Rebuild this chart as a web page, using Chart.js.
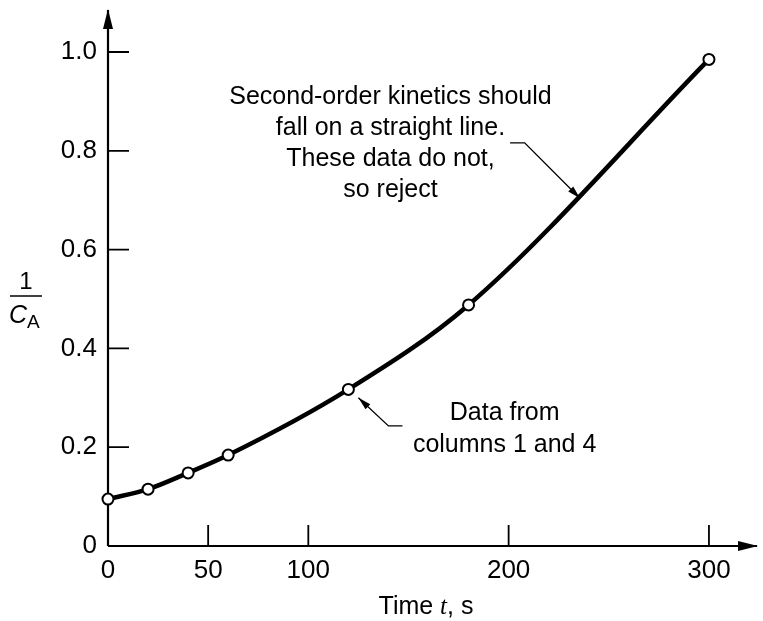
<!DOCTYPE html>
<html>
<head>
<meta charset="utf-8">
<script src="https://cdn.jsdelivr.net/npm/chart.js@4/dist/chart.umd.min.js"></script>
<style>
  html, body { margin: 0; padding: 0; background: #fff; }
  #wrap { width: 763px; height: 621px; }
</style>
</head>
<body>
<div id="wrap"><canvas id="chart"></canvas></div>
<script>
// Data: 1/CA against time
const times = [0, 20, 40, 60, 120, 180, 300];
const invCA = [0.095, 0.115, 0.148, 0.184, 0.317, 0.488, 0.985];

const xTicks = [0, 50, 100, 200, 300];
const yTicks = [0, 0.2, 0.4, 0.6, 0.8, 1.0];

const noteTop = ['Second-order kinetics should', 'fall on a straight line.', 'These data do not,', 'so reject'];
const noteBottom = ['Data from', 'columns 1 and 4'];

const FONT = "'Liberation Sans', Arial, sans-serif";

function arrowHead(ctx, x0, y0, x1, y1, len, half) {
    const a = Math.atan2(y1 - y0, x1 - x0);
    ctx.beginPath();
    ctx.moveTo(x1, y1);
    ctx.lineTo(x1 - len * Math.cos(a) + half * Math.sin(a), y1 - len * Math.sin(a) - half * Math.cos(a));
    ctx.lineTo(x1 - len * Math.cos(a) - half * Math.sin(a), y1 - len * Math.sin(a) + half * Math.cos(a));
    ctx.closePath();
    ctx.fill();
}

// axes with arrows and inward tick marks, drawn under the curve
const axesPlugin = {
    id: 'axes',
    beforeDatasetsDraw(chart) {
        const { ctx, chartArea, scales } = chart;
        const x0 = scales.x.getPixelForValue(0);
        const y0 = scales.y.getPixelForValue(0);
        ctx.save();
        ctx.strokeStyle = '#000';
        ctx.fillStyle = '#000';
        ctx.lineWidth = 2.2;
        ctx.beginPath();
        ctx.moveTo(x0, y0);
        ctx.lineTo(x0, chartArea.top - 2);
        ctx.moveTo(x0, y0);
        ctx.lineTo(chartArea.right + 12, y0);
        ctx.stroke();
        arrowHead(ctx, x0, y0, x0, chartArea.top - 3, 20, 5);
        arrowHead(ctx, x0, y0, chartArea.right + 13, y0, 20, 5);

        ctx.lineWidth = 1.8;
        ctx.beginPath();
        yTicks.slice(1).forEach(v => {
            const p = scales.y.getPixelForValue(v);
            ctx.moveTo(x0, p);
            ctx.lineTo(x0 + 21, p);
        });
        xTicks.slice(1).forEach(v => {
            const p = scales.x.getPixelForValue(v);
            ctx.moveTo(p, y0);
            ctx.lineTo(p, y0 - 21);
        });
        ctx.stroke();
        ctx.restore();
    },
    afterDraw(chart) {
        const { ctx, scales } = chart;
        const px = v => scales.x.getPixelForValue(v);
        const py = v => scales.y.getPixelForValue(v);
        ctx.save();
        ctx.fillStyle = '#000';
        ctx.strokeStyle = '#000';
        ctx.textAlign = 'center';
        ctx.textBaseline = 'middle';

        // upper note
        ctx.font = '25px ' + FONT;
        noteTop.forEach((t, i) => ctx.fillText(t, px(141), 97 + i * 31));
        ctx.lineWidth = 1.3;
        ctx.beginPath();
        ctx.moveTo(px(200.7), py(0.816));
        ctx.lineTo(px(208), py(0.816));
        ctx.lineTo(px(235.6), py(0.704));
        ctx.stroke();
        arrowHead(ctx, px(208), py(0.816), px(235.6), py(0.704), 13, 3.5);

        // lower note
        noteBottom.forEach((t, i) => ctx.fillText(t, px(198), 413 + i * 32));
        ctx.beginPath();
        ctx.moveTo(px(147), py(0.243));
        ctx.lineTo(px(140), py(0.243));
        ctx.lineTo(px(125), py(0.300));
        ctx.stroke();
        arrowHead(ctx, px(140), py(0.243), px(125), py(0.300), 13, 3.5);

        // x axis title, with italic t
        ctx.textAlign = 'left';
        ctx.textBaseline = 'alphabetic';
        const serifIt = "italic 25px 'Liberation Serif', serif";
        const parts = [['Time ', '25px ' + FONT], ['t', serifIt], [', s', '25px ' + FONT]];
        let w = 0;
        parts.forEach(p => { ctx.font = p[1]; w += ctx.measureText(p[0]).width; });
        let cx = 426 - w / 2;
        parts.forEach(p => {
            ctx.font = p[1];
            ctx.fillText(p[0], cx, 614);
            cx += ctx.measureText(p[0]).width;
        });

        // y axis title: 1 over C_A
        ctx.textAlign = 'center';
        ctx.font = '24px ' + FONT;
        ctx.fillText('1', 26, 289);
        ctx.lineWidth = 1.5;
        ctx.beginPath();
        ctx.moveTo(10, 296);
        ctx.lineTo(42, 296);
        ctx.stroke();
        ctx.textAlign = 'left';
        ctx.font = 'italic 25px ' + FONT;
        ctx.fillText('C', 9, 323);
        ctx.font = '19px ' + FONT;
        ctx.fillText('A', 27, 328);
        ctx.restore();
    }
};

new Chart(document.getElementById('chart'), {
    type: 'line',
    data: {
        datasets: [{
            data: times.map((t, i) => ({ x: t, y: invCA[i] })),
            borderColor: '#000',
            borderWidth: 4.5,
            cubicInterpolationMode: 'monotone',
            pointRadius: 5.5,
            pointBorderWidth: 2,
            pointBackgroundColor: '#fff',
            pointBorderColor: '#000',
            clip: false
        }]
    },
    options: {
        responsive: true,
        maintainAspectRatio: false,
        animation: false,
        layout: { padding: { left: 0, top: 12, right: 18, bottom: 0 } },
        plugins: {
            legend: { display: false },
            tooltip: { enabled: false }
        },
        scales: {
            x: {
                type: 'linear',
                min: 0,
                max: 318,
                afterBuildTicks: s => { s.ticks = xTicks.map(v => ({ value: v })); },
                afterFit: s => { s.height = 75; s.paddingLeft = 0; s.paddingRight = 0; },
                grid: { display: false, drawTicks: false },
                border: { display: false },
                ticks: {
                    padding: 9,
                    maxRotation: 0,
                    color: '#000',
                    font: { size: 26, family: FONT },
                    callback: v => String(v)
                }
            },
            y: {
                type: 'linear',
                min: 0,
                max: 1.081,
                afterBuildTicks: s => { s.ticks = yTicks.map(v => ({ value: v })); },
                afterFit: s => { s.width = 108; s.paddingTop = 0; s.paddingBottom = 0; },
                grid: { display: false, drawTicks: false },
                border: { display: false },
                ticks: {
                    padding: 11,
                    color: '#000',
                    font: { size: 26, family: FONT },
                    callback: v => v === 0 ? '0' : v.toFixed(1)
                }
            }
        }
    },
    plugins: [axesPlugin]
});
</script>
</body>
</html>
